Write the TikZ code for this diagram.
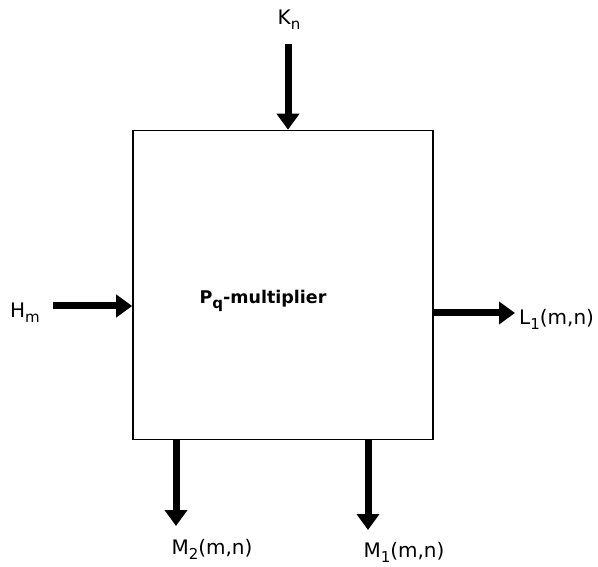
\documentclass[tikz,border=0pt]{standalone}
\usepackage{fontspec}
\setmainfont{DejaVu Sans}
\usetikzlibrary{arrows.meta}
\newcommand{\sbx}[1]{\raisebox{-0.25em}{\fontsize{15}{17}\selectfont #1}}
\begin{document}
\begin{tikzpicture}[x=1pt,y=-1pt,
  lbl/.style={font=\fontsize{20}{23}\selectfont, inner sep=0pt},
  fat/.style={line width=7pt, -{Triangle[length=16pt,width=22pt]}},
  blockbox/.style={draw, line width=1.6pt, minimum width=300pt, minimum height=309pt, inner sep=0pt}]
\useasboundingbox (0,0) rectangle (598,567);
\node[blockbox] (box) at (283,285) {};
\node[font=\bfseries\fontsize{17.5}{20}\selectfont, inner sep=0pt] (title) at (263,301) {P\sbx{q}-multiplier};
% inputs
\node[lbl] (kn) at (289,20) {K\sbx{n}};
\coordinate (kstart) at (288,44);
\draw[fat] (kstart) -- (box.north -| kstart);
\node[lbl] (hm) at (25,313) {H\sbx{m}};
\coordinate (hstart) at (53,306);
\draw[fat] (hstart) -- (box.west |- hstart);
% outputs
\coordinate (lstart) at (433,313);
\coordinate (lend) at (515,313);
\draw[fat] (lstart) -- (lend);
\node[lbl, anchor=west] (l1) at (519,319) {L\sbx{1}(m,n)};
\coordinate (m2s) at (176,439);
\coordinate (m2e) at (176,526);
\draw[fat] (m2s) -- (m2e);
\node[lbl] (m2) at (212,549) {M\sbx{2}(m,n)};
\coordinate (m1s) at (368,439);
\coordinate (m1e) at (368,530);
\draw[fat] (m1s) -- (m1e);
\node[lbl] (m1) at (404,552) {M\sbx{1}(m,n)};
\end{tikzpicture}
\end{document}
